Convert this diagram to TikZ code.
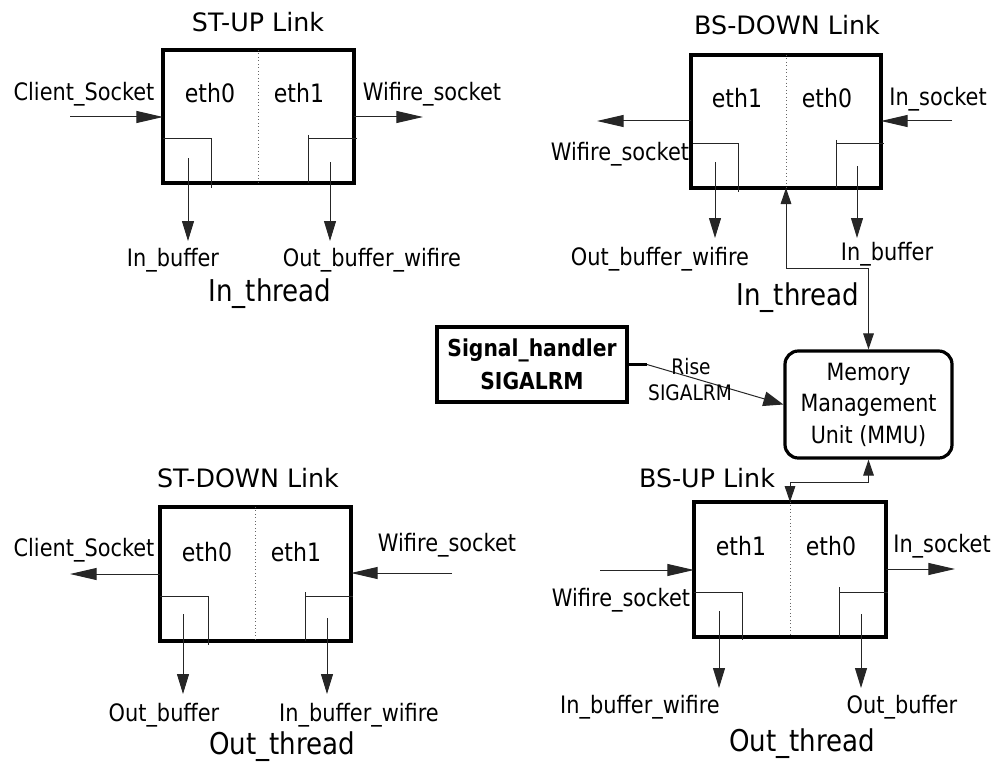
\documentclass[tikz,border=0pt]{standalone}
\usepackage{fontspec}
\setmainfont{DejaVu Sans}[FakeStretch=0.87]
\newfontfamily\plainsans{DejaVu Sans}
\usetikzlibrary{arrows.meta}
\begin{document}
\begin{tikzpicture}[x=0.75pt,y=-0.75pt,
  linkbox/.style={draw, line width=2.4pt, inner sep=0, outer sep=0},
  divider/.style={dotted, line width=0.6pt, black!60},
  thinline/.style={line width=0.75pt, black!85},
  lbl/.style={inner sep=0, font=\fontsize{18}{20}\selectfont, text height=13.1pt, text depth=0pt},
  ethl/.style={inner sep=0, font=\fontsize{19}{21}\selectfont, text height=13.9pt, text depth=0pt},
  ttl/.style={inner sep=0, font=\plainsans\fontsize{19}{21}\selectfont, text height=13.9pt, text depth=0pt},
  thr/.style={inner sep=0, font=\fontsize{22.5}{25}\selectfont, text height=16.4pt, text depth=0pt},
  small/.style={inner sep=0, font=\fontsize{16}{18}\selectfont, text height=11.7pt, text depth=0pt},
  sock/.style={thinline, -{Triangle[length=20pt,width=9pt]}},
  dn/.style={thinline, -{Triangle[length=15pt,width=9pt]}},
  mmuarr/.style={thinline, {Triangle[length=12pt,width=8pt]}-{Triangle[length=12pt,width=8pt]}},
  sigarr/.style={thinline, -{Triangle[length=15pt,width=11pt]}},
]
\useasboundingbox (0,0) rectangle (998,763);

% ---------------- ST-UP Link ----------------
\node[linkbox, minimum width=143.25pt, minimum height=99.75pt] (b1) at (258.5,116.5) {};
\draw[divider] (b1.north) -- (b1.south);
\node[ttl] (t1) at (258,22) {ST-UP Link};
\node[ethl] (e10) at (210,93) {eth0};
\node[ethl] (e11) at (299,93) {eth1};
\node[lbl] (cs1) at (84,92) {Client\_Socket};
\node[lbl] (ws1) at (432,92) {Wifire\_socket};
\coordinate (cs1a) at (70,117);
\coordinate (ws1a) at (423,117);
\draw[sock] (cs1a) -- (cs1a -| b1.west);
\draw[sock] (ws1a -| b1.east) -- (ws1a);
\draw[thinline] (163,139) -- (211,139) -- (211,188);
\draw[thinline] (308,135) -- (308,183);
\draw[thinline] (308,139) -- (357,139);
\draw[dn] (188,158) -- (188,241);
\draw[dn] (330,162) -- (330,241);
\node[lbl] (ib1) at (173,258) {In\_buffer};
\node[lbl] (ob1) at (372,258) {Out\_buffer\_wifire};
\node[thr] (th1) at (270,291) {In\_thread};

% ---------------- BS-DOWN Link ----------------
\node[linkbox, minimum width=142.5pt, minimum height=99.75pt] (b2) at (786,121.5) {};
\draw[divider] (b2.north) -- (b2.south);
\node[ttl] (t2) at (787,25) {BS-DOWN Link};
\node[ethl] (e21) at (737,98) {eth1};
\node[ethl] (e20) at (827,98) {eth0};
\node[lbl] (is2) at (938,97) {In\_socket};
\node[lbl] (ws2) at (620,152) {Wifire\_socket};
\coordinate (is2a) at (952,121);
\coordinate (ws2a) at (597,121);
\draw[sock] (is2a) -- (is2a -| b2.east);
\draw[sock] (ws2a -| b2.west) -- (ws2a);
\draw[thinline] (693,144) -- (738,144) -- (738,192);
\draw[thinline] (836,140) -- (836,188);
\draw[thinline] (836,144) -- (884,144);
\draw[dn] (715,162) -- (715,238);
\draw[dn] (857,166) -- (857,238);
\node[lbl] (ob2) at (660,257) {Out\_buffer\_wifire};
\node[lbl] (ib2) at (887,252) {In\_buffer};
\node[thr] (th2) at (798,295) {In\_thread};

% ---------------- Signal handler and MMU ----------------
\node[draw, line width=2.4pt, minimum width=142.5pt, minimum height=56.25pt, align=center, inner sep=0,
      font=\fontsize{17.5}{24.75}\selectfont\bfseries] (sig) at (532,364.5) {Signal\_handler\\SIGALRM};
\node[draw, line width=2.4pt, rounded corners=10pt, minimum width=125.25pt, minimum height=80.25pt, align=center, inner sep=0,
      font=\fontsize{17.8}{23.6}\selectfont] (mmu) at (868.5,404.5) {Memory\\Management\\Unit (MMU)};
\coordinate (sk) at (647,364.5);
\draw[line width=2.4pt] (sig.east) -- (sk);
\draw[sigarr] (sk) -- (mmu.west);
\node[small] (rise) at (691,367) {Rise};
\node[small] (sigl) at (690,393) {SIGALRM};
\draw[mmuarr] (b2.south) -- ++(0,80) -| (mmu.north);

% ---------------- ST-DOWN Link ----------------
\node[linkbox, minimum width=143.25pt, minimum height=100.5pt] (b3) at (255.5,574) {};
\draw[divider] (b3.north) -- (b3.south);
\node[ttl] (t3) at (248,478) {ST-DOWN Link};
\node[ethl] (e30) at (207,552) {eth0};
\node[ethl] (e31) at (296,552) {eth1};
\node[lbl] (cs3) at (84,548) {Client\_Socket};
\node[lbl] (ws3) at (447,543) {Wifire\_socket};
\coordinate (cs3a) at (70,574);
\coordinate (ws3a) at (452,573);
\draw[sock] (cs3a -| b3.west) -- (cs3a);
\draw[sock] (ws3a) -- (ws3a -| b3.east);
\draw[thinline] (160,596) -- (208,596) -- (208,645);
\draw[thinline] (305,592) -- (305,641);
\draw[thinline] (305,596) -- (353,596);
\draw[dn] (183,614) -- (183,694);
\draw[dn] (327,618) -- (327,694);
\node[lbl] (ob3) at (164,713) {Out\_buffer};
\node[lbl] (ib3) at (359,713) {In\_buffer\_wifire};
\node[thr] (th3) at (282,744) {Out\_thread};

% ---------------- BS-UP Link ----------------
\node[linkbox, minimum width=144pt, minimum height=101.25pt] (b4) at (790,569.5) {};
\draw[divider] (b4.north) -- (b4.south);
\node[ttl] (t4) at (707,478) {BS-UP Link};
\node[ethl] (e41) at (741,546) {eth1};
\node[ethl] (e40) at (831,546) {eth0};
\node[lbl] (ws4) at (621,598) {Wifire\_socket};
\node[lbl] (is4) at (942,544) {In\_socket};
\coordinate (ws4a) at (600,570);
\coordinate (is4a) at (955,569);
\draw[sock] (ws4a) -- (ws4a -| b4.west);
\draw[sock] (is4a -| b4.east) -- (is4a);
\draw[thinline] (694,592) -- (742,592) -- (742,640);
\draw[thinline] (839,587) -- (839,637);
\draw[thinline] (839,592) -- (888,592);
\draw[dn] (719,611) -- (719,688);
\draw[dn] (861,614) -- (861,688);
\node[lbl] (ib4) at (640,705) {In\_buffer\_wifire};
\node[lbl] (ob4) at (902,705) {Out\_buffer};
\node[thr] (th4) at (802,741) {Out\_thread};
\draw[mmuarr] (b4.north) -- ++(0,-20) -| (mmu.south);
\end{tikzpicture}
\end{document}
